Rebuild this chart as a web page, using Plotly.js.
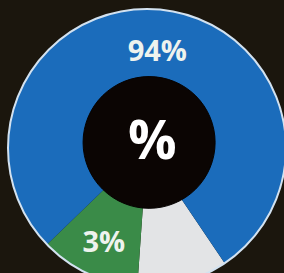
<!DOCTYPE html>
<html>
<head>
<meta charset="utf-8">
<script src="https://cdn.plot.ly/plotly-3.0.1.min.js"></script>
<style>
html,body{margin:0;padding:0;background:#1b160d;overflow:hidden;}
#chart{width:288px;height:300px;}
</style>
</head>
<body>
<div id="chart"></div>
<script>
// Slices in drawing order (clockwise, starting at the gray/blue boundary)
var categories = ["Gray", "Green", "Blue"];
// Share of the ring each slice occupies in the picture (degrees of arc)
var arcShare = [38, 42, 280];
// Printed labels
var sliceLabels = ["", "3%", "94%"];
var centerLabel = "%";

var colors = ["#e3e4e6", "#3a8b48", "#1b6cbb"];

var data = [{
  type: "pie",
  labels: categories,
  values: arcShare,
  text: sliceLabels,
  textinfo: "text",
  textposition: "inside",
  insidetextorientation: "horizontal",
  sort: false,
  direction: "clockwise",
  rotation: 146,
  hole: 0.42,
  marker: {colors: colors, line: {width: 0}},
  textfont: {family: "Open Sans", size: 29, color: "#eef3ee", weight: 700},
  showlegend: false,
  hoverinfo: "none"
}];

var layout = {
  width: 288,
  height: 300,
  margin: {l: 8, r: 2, t: 9, b: 13, pad: 0},
  paper_bgcolor: "#1b160d",
  plot_bgcolor: "#1b160d",
  showlegend: false,
  shapes: [
    {type: "circle", xref: "paper", yref: "paper", x0: 0, x1: 1, y0: 0, y1: 1,
     fillcolor: "rgba(0,0,0,0)", line: {color: "#d3e2f0", width: 2}, layer: "above"},
    {type: "circle", xref: "paper", yref: "paper", x0: 0.270, x1: 0.745, y0: 0.283, y1: 0.757,
     fillcolor: "#0b0503", line: {color: "#050201", width: 1}, layer: "above"}
  ],
  annotations: [{
    text: centerLabel, xref: "paper", yref: "paper", x: 0.518, y: 0.535,
    showarrow: false, font: {family: "Open Sans", size: 54, color: "#ffffff", weight: 700}
  }]
};

Plotly.newPlot("chart", data, layout, {displayModeBar: false, staticPlot: true});
</script>
</body>
</html>
